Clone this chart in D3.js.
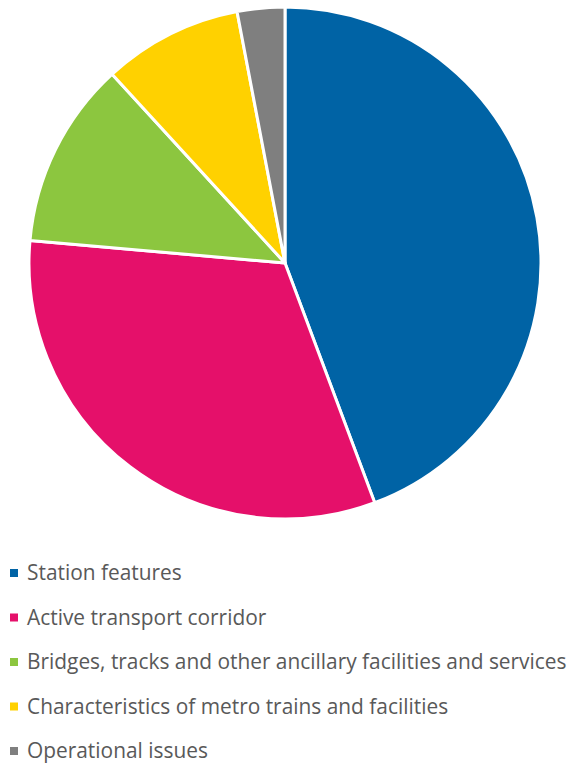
<!DOCTYPE html>
<html><head><meta charset="utf-8">
<script src="https://cdn.jsdelivr.net/npm/d3@7"></script>
<style>body{margin:0;background:#fff}</style>
</head><body>
<svg id="c" width="570" height="767"></svg>
<script>
const categories = ["Station features","Active transport corridor","Bridges, tracks and other ancillary facilities and services","Characteristics of metro trains and facilities","Operational issues"];
const values = [44.3, 32.1, 11.8, 8.8, 3.0];
const colors = ["#0063A5","#E5106A","#8CC63F","#FFD100","#7F7F7F"];

const svg = d3.select("#c");
const cx = 285, cy = 263, r = 256;
const pie = d3.pie().sort(null).value(d => d)(values);
const arc = d3.arc().innerRadius(0).outerRadius(r);
svg.append("g").attr("transform", `translate(${cx},${cy})`)
  .selectAll("path").data(pie).join("path")
  .attr("d", arc).attr("fill", (d,i) => colors[i])
  .attr("stroke", "#fff").attr("stroke-width", 3).attr("stroke-linejoin","round");

const y = d3.scalePoint().domain(categories).range([573, 751]);
const lg = svg.append("g").selectAll("g").data(categories).join("g")
  .attr("transform", d => `translate(0,${y(d)})`);
lg.append("rect").attr("x", 10).attr("y", -4).attr("width", 8).attr("height", 8)
  .attr("fill", (d,i) => colors[i]);
const t = lg.append("text").attr("x", 27).attr("y", 0).attr("dy", "0.35em")
  .attr("font-family", "'Open Sans', sans-serif").attr("font-size", 20.5)
  .attr("fill", "#595959").text(d => d);
// fit the longest label to the reference width
const w = t.nodes()[2].getComputedTextLength();
const target = 540;
if (Math.abs(w - target) > 4) t.attr("font-size", 20.5 * target / w);
</script>
</body></html>
